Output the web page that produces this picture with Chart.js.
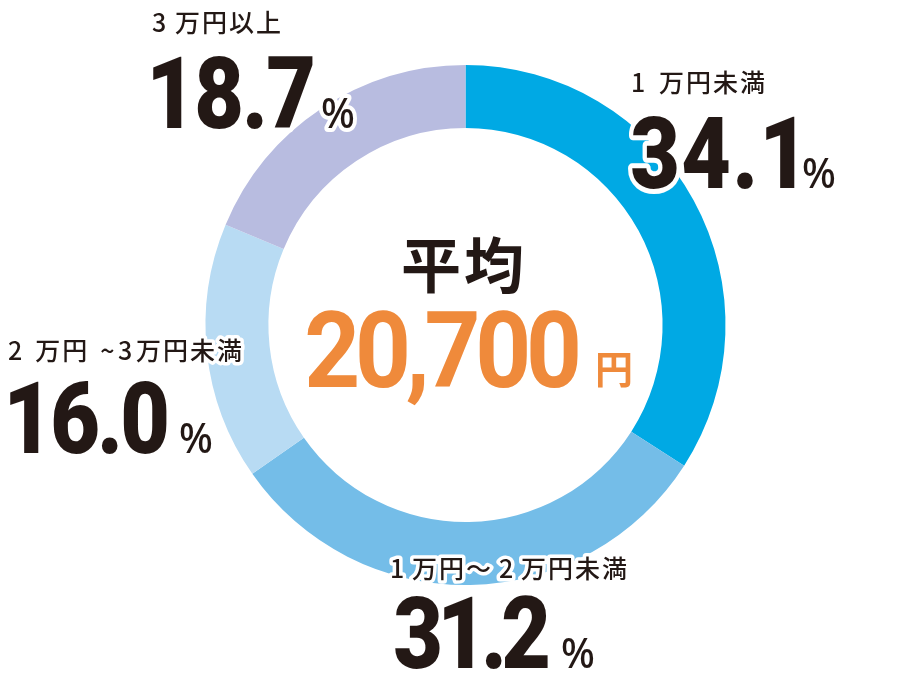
<!DOCTYPE html>
<html lang="ja">
<head>
<meta charset="UTF-8">
<title>Chart</title>
<script src="https://cdn.jsdelivr.net/npm/chart.js"></script>
<style>
  body { margin: 0; background: #fff; }
</style>
</head>
<body>
<canvas id="mychart" width="918" height="684"></canvas>
<script>
const categories = ['1 万円未満', '1万円～2万円未満', '2 万円 ~3万円未満', '3万円以上'];
const shares = [34.1, 31.2, 16.0, 18.7];
const sliceColors = ['#00a9e4', '#74bde8', '#b8dbf3', '#b8bce0'];
const averageTitle = '平均';
const averageValue = '20,700';
const averageUnit = '円';

// where each category's text goes (left edge of ink, bottoms / baselines, ink widths)
const labelPlaces = [
  { x: 633, labelBottom: 95,  labelW: 132, numX: 632, numY: 188, numW: 163, pctX: 803 },
  { x: 392, labelBottom: 581, labelW: 235, numX: 395, numY: 668, numW: 153, pctX: 562 },
  { x: 8,   labelBottom: 363, labelW: 234, numX: 10,  numY: 453, numW: 157, pctX: 180 },
  { x: 152, labelBottom: 35,  labelW: 128, numX: 153, numY: 128, numW: 160, pctX: 322 }
];

const INK = '#231815';
const ORANGE = '#ef8a3b';
const NUM_FONT = "Roboto, 'Liberation Sans', sans-serif";
const JP_FONT = "'Noto Sans CJK JP', sans-serif";

const isNarrow = ch => ch.charCodeAt(0) < 0x2000;

// draws text char by char so its ink starts at `left` and spans `width`.
// the spare room goes to the gaps next to half-width characters.
// y is the baseline, or the ink bottom if byBottom; sx squeezes glyphs horizontally
function inkText(ctx, text, left, y, width, opts) {
  const o = Object.assign({ sx: 1, halo: 0, byBottom: false, base: 0 }, opts);
  ctx.letterSpacing = '0px';
  const chars = [...text];
  const ms = chars.map(ch => ctx.measureText(ch));
  const n = chars.length - 1;
  const whole = ctx.measureText(text);
  let natural = ms[0].actualBoundingBoxLeft + ms[n].actualBoundingBoxRight;
  for (let i = 0; i < n; i++) natural += ms[i].width;
  let flags = [];
  for (let i = 0; i < n; i++) flags.push(isNarrow(chars[i]) || isNarrow(chars[i + 1]));
  if (!flags.some(f => f)) flags = flags.map(() => true);
  const flagged = flags.filter(f => f).length;
  const extra = (width && n > 0) ? (width / o.sx - natural - o.base * n) / flagged : 0;
  const by = o.byBottom ? y - whole.actualBoundingBoxDescent : y;
  const xs = [];
  let x = ms[0].actualBoundingBoxLeft;
  chars.forEach((ch, i) => {
    xs.push(x);
    x += ms[i].width + o.base + (flags[i] ? extra : 0);
  });
  ctx.save();
  ctx.translate(left, by);
  ctx.scale(o.sx, 1);
  if (o.halo) {
    ctx.lineJoin = 'round';
    ctx.lineWidth = o.halo;
    ctx.strokeStyle = '#fff';
    chars.forEach((ch, i) => ctx.strokeText(ch, xs[i], 0));
  }
  chars.forEach((ch, i) => ctx.fillText(ch, xs[i], 0));
  ctx.restore();
}

const labelPlugin = {
  id: 'labels',
  afterDraw(chart) {
    const ctx = chart.ctx;
    ctx.save();
    ctx.textAlign = 'left';
    ctx.textBaseline = 'alphabetic';
    ctx.fillStyle = INK;
    categories.forEach((cat, i) => {
      const p = labelPlaces[i];
      ctx.font = '500 25px ' + JP_FONT;
      inkText(ctx, cat, p.x, p.labelBottom, p.labelW, { halo: 7, byBottom: true, base: 2 });
      ctx.font = '900 101px ' + NUM_FONT;
      inkText(ctx, shares[i].toFixed(1), p.numX, p.numY, p.numW, { sx: 0.85, halo: 10 });
      ctx.font = '500 41px "Noto Sans", sans-serif';
      inkText(ctx, '%', p.pctX, p.numY, 0, { sx: 0.97, halo: 8 });
    });

    // centre text
    ctx.fillStyle = INK;
    ctx.font = 'bold 60px ' + JP_FONT;
    inkText(ctx, averageTitle, 403, 295, 119, { byBottom: true });
    ctx.fillStyle = ORANGE;
    ctx.font = 'bold 105px ' + NUM_FONT;
    inkText(ctx, averageValue, 307, 387, 271, { sx: 0.93 });
    ctx.font = 'bold 38px ' + JP_FONT;
    inkText(ctx, averageUnit, 598, 388, 0, { byBottom: true });
    ctx.restore();
  }
};

new Chart(document.getElementById('mychart').getContext('2d'), {
  type: 'doughnut',
  data: {
    labels: categories,
    datasets: [{
      data: shares,
      backgroundColor: sliceColors,
      borderWidth: 0
    }]
  },
  options: {
    responsive: false,
    animation: false,
    cutout: '75.8%',
    events: [],
    layout: {
      padding: { left: 205.5, right: 192.5, top: 65, bottom: 99 }
    },
    plugins: {
      legend: { display: false },
      tooltip: { enabled: false }
    }
  },
  plugins: [labelPlugin]
});
</script>
</body>
</html>
